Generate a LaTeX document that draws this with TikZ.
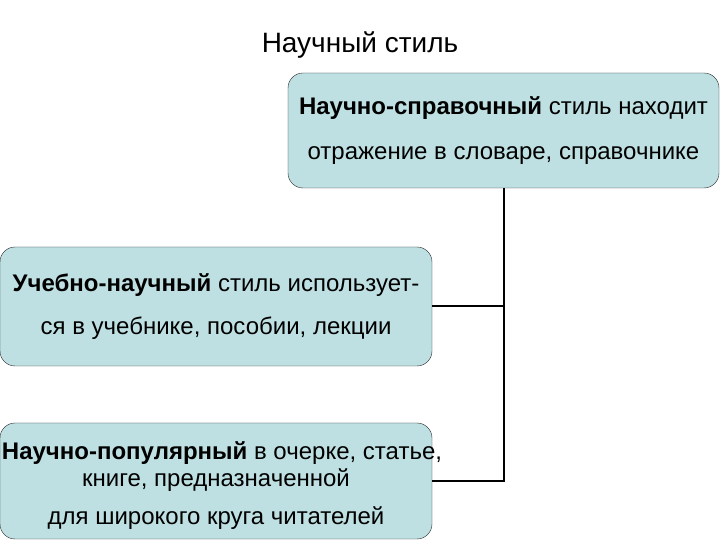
\documentclass[tikz,border=0pt]{standalone}
\usepackage{fontspec}
\setmainfont{Liberation Sans}
\definecolor{boxfill}{RGB}{190,224,226}
\begin{document}
\begin{tikzpicture}[x=1pt, y=1pt,
    box/.style = {draw=black!85, fill=boxfill, rounded corners=15pt, align=center,
                  inner sep=0pt, font=\fontsize{24}{27}\selectfont},
    link/.style = {line width=2pt}]
    \useasboundingbox (0,0) rectangle (720,540);
    \node (title) at (360,495) {\fontsize{28}{32}\selectfont Научный стиль};
    \node[box, minimum width=431pt, minimum height=115pt] (sprav) at (503.5,409.5)
        {\textbf{Научно-справочный} стиль находит\\[18pt]
         отражение в словаре, справочнике};
    \node[box, minimum width=432pt, minimum height=119pt] (ucheb) at (216,233.5)
        {\textbf{Учебно-научный} стиль использует-\\[16pt]
         ся в учебнике, пособии, лекции};
    \node[box, minimum width=432pt, minimum height=116pt] (popul) at (216,59)
        {\rule{0pt}{26pt}\makebox[400pt][c]{\hspace*{12pt}\textbf{Научно-популярный} в очерке, статье,}\\[0pt]
         книге, предназначенной\\[11pt]
         для широкого круга читателей};
    \draw[link] (sprav.south) |- (ucheb.east);
    \draw[link] (sprav.south) |- (popul.east);
\end{tikzpicture}
\end{document}
